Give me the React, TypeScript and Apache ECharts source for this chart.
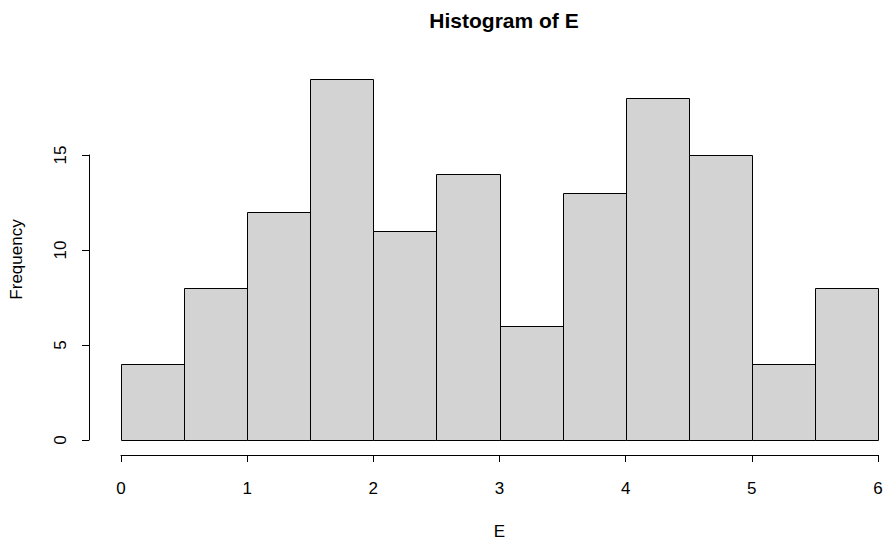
import React, { useEffect, useRef } from "react";
import * as echarts from "echarts";

const breaks = [0, 0.5, 1, 1.5, 2, 2.5, 3, 3.5, 4, 4.5, 5, 5.5, 6];
const counts = [4, 8, 12, 19, 11, 14, 6, 13, 18, 15, 4, 8];
const xTicks = [0, 1, 2, 3, 4, 5, 6];
const yTicks = [0, 5, 10, 15];

const FONT = "Liberation Sans, Arial, sans-serif";

export default function App() {
  const ref = useRef<HTMLDivElement>(null);
  useEffect(() => {
    if (!ref.current) return;
    const chart = echarts.init(ref.current, undefined, { renderer: "svg" });
    const data = counts.map((c, i) => [breaks[i], breaks[i + 1], c]);
    chart.setOption({
      animation: false,
      backgroundColor: "#ffffff",
      title: {
        text: "Histogram of E",
        left: 499,
        textAlign: "center",
        top: 5,
        textStyle: { fontFamily: FONT, fontSize: 21, fontWeight: "bold", color: "#000" },
      },
      grid: [
        { left: 121, right: 6, top: 79, bottom: 101, outerBoundsMode: "none", containLabel: false },
        { left: 121, right: 6, top: 155, bottom: 101, outerBoundsMode: "none", containLabel: false },
      ],
      xAxis: [
        {
          type: "value",
          gridIndex: 0,
          min: xTicks[0],
          max: xTicks[xTicks.length - 1],
          interval: 1,
          offset: 15,
          name: "E",
          nameLocation: "middle",
          nameGap: 68,
          nameTextStyle: { fontFamily: FONT, fontSize: 17, color: "#000" },
          axisLine: { show: true, onZero: false, lineStyle: { color: "#000", width: 1 } },
          axisTick: { show: true, length: 7, lineStyle: { color: "#000" } },
          axisLabel: { fontFamily: FONT, fontSize: 17, color: "#000", margin: 25 },
          splitLine: { show: false },
        },
        {
          type: "value",
          gridIndex: 1,
          min: 0,
          max: 6,
          show: false,
        },
      ],
      yAxis: [
        {
          type: "value",
          gridIndex: 0,
          min: 0,
          max: 19,
          offset: 32,
          name: "Frequency",
          nameLocation: "middle",
          nameGap: 64,
          nameRotate: 90,
          nameTextStyle: { fontFamily: FONT, fontSize: 17, color: "#000" },
          axisLine: { show: false, onZero: false },
          axisTick: { show: false },
          axisLabel: { show: false },
          splitLine: { show: false },
        },
        {
          type: "value",
          gridIndex: 1,
          min: yTicks[0],
          max: yTicks[yTicks.length - 1],
          interval: 5,
          offset: 32,
          axisLine: { show: true, onZero: false, lineStyle: { color: "#000", width: 1 } },
          axisTick: { show: true, length: 7, lineStyle: { color: "#000" } },
          axisLabel: { fontFamily: FONT, fontSize: 17, color: "#000", rotate: 90, margin: 20 },
          splitLine: { show: false },
        },
      ],
      series: [
        {
          type: "custom",
          xAxisIndex: 0,
          yAxisIndex: 0,
          data,
          renderItem: (params: any, api: any) => {
            const p0 = api.coord([api.value(0), 0]);
            const p1 = api.coord([api.value(1), api.value(2)]);
            return {
              type: "rect",
              shape: {
                x: Math.round(p0[0]) + 0.5,
                y: Math.round(p1[1]) + 0.5,
                width: Math.round(p1[0]) - Math.round(p0[0]),
                height: Math.round(p0[1]) - Math.round(p1[1]),
              },
              style: { fill: "#d3d3d3", stroke: "#000", lineWidth: 1 },
            };
          },
        },
      ],
    });
    return () => chart.dispose();
  }, []);
  return (
    <div
      ref={ref}
      style={{ position: "fixed", left: 0, top: 0, width: 884, height: 541 }}
    />
  );
}
